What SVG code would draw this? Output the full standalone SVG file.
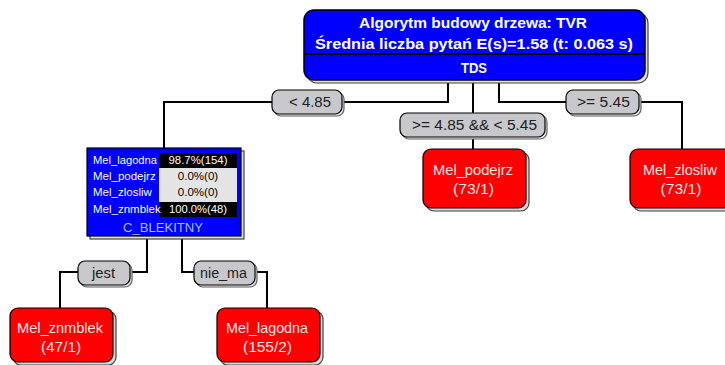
<svg xmlns="http://www.w3.org/2000/svg" width="725" height="365" viewBox="0 0 725 365">
<style>
text{font-family:"Liberation Sans","DejaVu Sans",Arial,sans-serif;}
.conn{fill:none;stroke:#000;stroke-width:2;}
.lbl{fill:#c8c8cc;stroke:#000;stroke-width:1.2;}
.lsh{fill:#e8e8e8;stroke:#606060;stroke-width:1.2;}
.lt{font-size:14px;fill:#202020;text-anchor:middle;}
.leaf{fill:#ff0000;stroke:#000;stroke-width:1.2;}
.lfsh{fill:#d8d8d8;stroke:#404040;stroke-width:1.2;}
.leaft{font-size:14px;fill:#ffe8e8;text-anchor:middle;}
.wt{font-size:14px;fill:#fff;font-weight:bold;text-anchor:middle;}
.rowt{font-size:11.5px;fill:#fff;}
.vw{font-size:11.5px;fill:#fff;text-anchor:middle;}
.vb{font-size:11.5px;fill:#000;text-anchor:middle;}
</style>
<rect width="725" height="365" fill="#fff"/>
<g id="connectors">
<polyline class="conn" points="448,80 448,102 342,102"/>
<polyline class="conn" points="272,102 164,102 164,149"/>
<polyline class="conn" points="473,80 473,113"/>
<polyline class="conn" points="473,137 473,149"/>
<polyline class="conn" points="499,80 499,102 566,102"/>
<polyline class="conn" points="639,102 682,102 682,149"/>
<polyline class="conn" points="147,237 147,272 130,272"/>
<polyline class="conn" points="78,272 60,272 60,308"/>
<polyline class="conn" points="182,237 182,272 194,272"/>
<polyline class="conn" points="255,272 267,272 267,308"/>
</g>
<g id="root">
<rect x="307" y="13" width="341" height="70" rx="10" fill="#e0e0e0" stroke="#404040" stroke-width="1.2"/>
<rect x="304" y="10" width="341" height="70" rx="10" fill="#0000ff" stroke="#000" stroke-width="1.5"/>
<line x1="305" y1="54" x2="644" y2="54" stroke="#000" stroke-width="2"/>
<text class="wt" x="473" y="28" textLength="228" lengthAdjust="spacingAndGlyphs">Algorytm budowy drzewa: TVR</text>
<text class="wt" x="474" y="49" textLength="318" lengthAdjust="spacingAndGlyphs">Średnia liczba pytań E(s)=1.58 (t: 0.063 s)</text>
<text class="wt" x="474" y="73" textLength="26" lengthAdjust="spacingAndGlyphs">TDS</text>
</g>
<g id="label-lt485">
<rect class="lsh" x="274" y="92" width="70" height="24" rx="7"/>
<rect class="lbl" x="272" y="90" width="70" height="24" rx="7"/>
<text class="lt" x="310" y="107" textLength="42" lengthAdjust="spacingAndGlyphs">&lt; 4.85</text>
</g>
<g id="label-mid">
<rect class="lsh" x="402" y="115" width="145" height="24" rx="7"/>
<rect class="lbl" x="400" y="113" width="145" height="24" rx="7"/>
<text class="lt" x="474.5" y="130" textLength="125" lengthAdjust="spacingAndGlyphs">&gt;= 4.85 &amp;&amp; &lt; 5.45</text>
</g>
<g id="label-ge545">
<rect class="lsh" x="568" y="92" width="73" height="24" rx="7"/>
<rect class="lbl" x="566" y="90" width="73" height="24" rx="7"/>
<text class="lt" x="603.5" y="107" textLength="53" lengthAdjust="spacingAndGlyphs">&gt;= 5.45</text>
</g>
<g id="node-blekitny">
<rect x="90" y="151" width="154" height="88" fill="#e0e0e0" stroke="#404040" stroke-width="1.2"/>
<rect x="87" y="148" width="154" height="88" fill="#0000ff" stroke="#000" stroke-width="1.2"/>
<rect x="159" y="153" width="78" height="15" fill="#000"/>
<rect x="159" y="168" width="78" height="34" fill="#e4e4e4"/>
<rect x="159" y="202" width="78" height="15" fill="#000"/>
<text class="rowt" x="93" y="164" textLength="64" lengthAdjust="spacingAndGlyphs">Mel_lagodna</text>
<text class="rowt" x="93" y="180">Mel_podejrz</text>
<text class="rowt" x="93" y="196">Mel_zlosliw</text>
<text class="rowt" x="93" y="213">Mel_znmblek</text>
<text class="vw" x="198" y="164" textLength="59" lengthAdjust="spacingAndGlyphs">98.7%(154)</text>
<text class="vb" x="198" y="180">0.0%(0)</text>
<text class="vb" x="198" y="196">0.0%(0)</text>
<text class="vw" x="198" y="213" textLength="58" lengthAdjust="spacingAndGlyphs">100.0%(48)</text>
<text x="163" y="232" font-size="13.5px" fill="#a8c0ff" text-anchor="middle" textLength="80" lengthAdjust="spacingAndGlyphs">C_BLEKITNY</text>
</g>
<g id="node-podejrz">
<rect class="lfsh" x="426" y="152" width="103" height="59" rx="8"/>
<rect class="leaf" x="423" y="149" width="103" height="59" rx="8"/>
<text class="leaft" x="473" y="175" textLength="80" lengthAdjust="spacingAndGlyphs">Mel_podejrz</text>
<text class="leaft" x="473.5" y="194" textLength="41" lengthAdjust="spacingAndGlyphs">(73/1)</text>
</g>
<g id="node-zlosliw">
<rect class="lfsh" x="633" y="152" width="103" height="59" rx="8"/>
<rect class="leaf" x="630" y="149" width="103" height="59" rx="8"/>
<text class="leaft" x="680" y="175" textLength="74" lengthAdjust="spacingAndGlyphs">Mel_zlosliw</text>
<text class="leaft" x="681" y="194" textLength="41" lengthAdjust="spacingAndGlyphs">(73/1)</text>
</g>
<g id="label-jest">
<rect class="lsh" x="80" y="263" width="52" height="24" rx="7"/>
<rect class="lbl" x="78" y="261" width="52" height="24" rx="7"/>
<text class="lt" x="103.5" y="278" textLength="23" lengthAdjust="spacingAndGlyphs">jest</text>
</g>
<g id="label-niema">
<rect class="lsh" x="196" y="263" width="61" height="24" rx="7"/>
<rect class="lbl" x="194" y="261" width="61" height="24" rx="7"/>
<text class="lt" x="223.5" y="278" textLength="47" lengthAdjust="spacingAndGlyphs">nie_ma</text>
</g>
<g id="node-znmblek">
<rect class="lfsh" x="13" y="311" width="103" height="54" rx="8"/>
<rect class="leaf" x="10" y="308" width="103" height="54" rx="8"/>
<text class="leaft" x="60" y="333" textLength="86" lengthAdjust="spacingAndGlyphs">Mel_znmblek</text>
<text class="leaft" x="61" y="352" textLength="40" lengthAdjust="spacingAndGlyphs">(47/1)</text>
</g>
<g id="node-lagodna">
<rect class="lfsh" x="220" y="311" width="103" height="54" rx="8"/>
<rect class="leaf" x="217" y="308" width="103" height="54" rx="8"/>
<text class="leaft" x="267" y="333" textLength="82" lengthAdjust="spacingAndGlyphs">Mel_lagodna</text>
<text class="leaft" x="267.5" y="352" textLength="49" lengthAdjust="spacingAndGlyphs">(155/2)</text>
</g>
</svg>
